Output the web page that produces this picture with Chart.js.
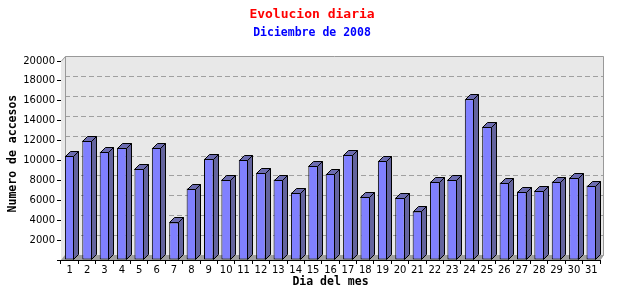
<!DOCTYPE html>
<html>
<head>
<meta charset="utf-8">
<title>Evolucion diaria</title>
<script src="https://cdn.jsdelivr.net/npm/chart.js@4/dist/chart.umd.min.js"></script>
<style>
  body { margin: 0; background: #fff; }
</style>
</head>
<body>
<canvas id="accesos" width="640" height="300"></canvas>
<script>
// Data: daily hits, December 2008
const dias = ['1','2','3','4','5','6','7','8','9','10','11','12','13','14','15','16',
              '17','18','19','20','21','22','23','24','25','26','27','28','29','30','31'];
const accesos = [10480, 12000, 10880, 11280, 9180, 11280, 3780, 7180, 10180, 8080, 10080,
                 8780, 8080, 6780, 9480, 8680, 10580, 6380, 9980, 6280, 4880, 7880, 8080,
                 16150, 13380, 7780, 6880, 6980, 7880, 8280, 7480];
const yTicks = [2000, 4000, 6000, 8000, 10000, 12000, 14000, 16000, 18000, 20000];

// Fake 3D look: back wall, floor and bar faces
const wallDX = 4, wallDY = 5;
const barDX = 5, barDY = 5;

const threeD = {
    id: 'threeD',
    beforeDatasetsDraw(chart) {
        const { ctx, chartArea: a, scales: { y } } = chart;
        ctx.save();

        // left + back wall
        ctx.fillStyle = '#e8e8e8';
        ctx.beginPath();
        ctx.moveTo(a.left, a.top);
        ctx.lineTo(a.left + wallDX, a.top - wallDY);
        ctx.lineTo(a.right + wallDX, a.top - wallDY);
        ctx.lineTo(a.right + wallDX, a.bottom - wallDY);
        ctx.lineTo(a.right, a.bottom);
        ctx.lineTo(a.left, a.bottom);
        ctx.closePath();
        ctx.fill();

        // dashed grid on the back wall
        ctx.strokeStyle = '#a0a0a0';
        ctx.lineWidth = 1;
        ctx.setLineDash([5, 3]);
        yTicks.slice(0, -1).forEach(v => {
            const py = Math.round(y.getPixelForValue(v) - wallDY) + 0.5;
            ctx.beginPath();
            ctx.moveTo(a.left + wallDX, py);
            ctx.lineTo(a.right + wallDX, py);
            ctx.stroke();
        });
        ctx.setLineDash([]);

        // floor
        ctx.fillStyle = '#a0a0a0';
        ctx.beginPath();
        ctx.moveTo(a.left, a.bottom);
        ctx.lineTo(a.left + wallDX, a.bottom - wallDY);
        ctx.lineTo(a.right + wallDX, a.bottom - wallDY);
        ctx.lineTo(a.right, a.bottom);
        ctx.closePath();
        ctx.fill();

        // wall outline
        ctx.strokeStyle = '#999';
        ctx.beginPath();
        ctx.moveTo(a.left + 0.5, a.top);
        ctx.lineTo(a.left + wallDX + 0.5, a.top - wallDY + 0.5);
        ctx.lineTo(a.right + wallDX - 0.5, a.top - wallDY + 0.5);
        ctx.lineTo(a.right + wallDX - 0.5, a.bottom - wallDY);
        ctx.lineTo(a.right, a.bottom);
        ctx.moveTo(a.left + wallDX + 0.5, a.top - wallDY + 0.5);
        ctx.lineTo(a.left + wallDX + 0.5, a.bottom - wallDY);
        ctx.stroke();

        ctx.restore();
    },
    afterDatasetsDraw(chart) {
        const { ctx } = chart;
        ctx.save();
        ctx.strokeStyle = '#000';
        ctx.lineWidth = 1;
        chart.getDatasetMeta(0).data.forEach(bar => {
            const L = Math.round(bar.x - bar.width / 2) + 0.5;
            const R = Math.round(bar.x + bar.width / 2) - 0.5;
            const T = Math.round(bar.y) + 0.5;
            const B = Math.round(bar.base) - 0.5;

            // top face
            ctx.fillStyle = '#6c6cb0';
            ctx.beginPath();
            ctx.moveTo(L, T);
            ctx.lineTo(L + barDX, T - barDY);
            ctx.lineTo(R + barDX, T - barDY);
            ctx.lineTo(R, T);
            ctx.closePath();
            ctx.fill();
            ctx.stroke();

            // side face
            ctx.fillStyle = '#64649e';
            ctx.beginPath();
            ctx.moveTo(R, T);
            ctx.lineTo(R + barDX, T - barDY);
            ctx.lineTo(R + barDX, B - barDY);
            ctx.lineTo(R, B);
            ctx.closePath();
            ctx.fill();
            ctx.stroke();
        });
        ctx.restore();
    }
};

const monoBold = (size) => ({ family: '"DejaVu Sans Mono", monospace', size: size, weight: 'bold' });
const tickFont = { family: '"DejaVu Sans", Verdana, sans-serif', size: 10 };

new Chart(document.getElementById('accesos'), {
    type: 'bar',
    data: {
        labels: dias,
        datasets: [{
            label: 'Accesos',
            data: accesos,
            backgroundColor: '#8080ff',
            borderColor: '#000',
            borderWidth: 1,
            borderSkipped: false,
            barPercentage: 0.55,
            categoryPercentage: 1
        }]
    },
    plugins: [threeD],
    options: {
        responsive: false,
        animation: false,
        // titles are centred on 0..624, the plot ends at 600 (see x afterFit)
        layout: { padding: { left: 0, right: 16, top: 0, bottom: 0 } },
        plugins: {
            legend: { display: false },
            tooltip: { enabled: false },
            title: {
                display: true,
                text: 'Evolucion diaria',
                color: '#ff0000',
                font: monoBold(13),
                padding: { top: 7, bottom: 0 }
            },
            subtitle: {
                display: true,
                text: 'Diciembre de 2008',
                color: '#0000ff',
                font: monoBold(11.5),
                padding: { top: 4, bottom: 20.6 }
            }
        },
        scales: {
            x: {
                offset: true,
                grid: { offset: true, drawOnChartArea: false, drawTicks: true, tickLength: 4, color: '#000' },
                border: { display: true, color: '#000' },
                ticks: { color: '#000', font: tickFont, padding: 0, maxRotation: 0, autoSkip: false },
                title: { display: true, text: 'Dia del mes', color: '#000', font: monoBold(11.5), padding: { top: 0, bottom: 11 } },
                afterFit(scale) {
                    scale.height = 40;
                    scale.paddingRight = 40;
                }
            },
            y: {
                min: 0,
                max: 20000,
                grid: { drawOnChartArea: false, drawTicks: true, tickLength: 4, color: '#000' },
                border: { display: true, color: '#000' },
                ticks: {
                    stepSize: 2000,
                    color: '#000',
                    font: tickFont,
                    padding: 2,
                    callback: v => (v === 0 ? '' : v)
                },
                title: { display: true, text: '  Numero de accesos', color: '#000', font: monoBold(11.5), padding: { top: 6, bottom: 0 } },
                afterFit(scale) { scale.width = 61; }
            }
        }
    }
});
</script>
</body>
</html>
